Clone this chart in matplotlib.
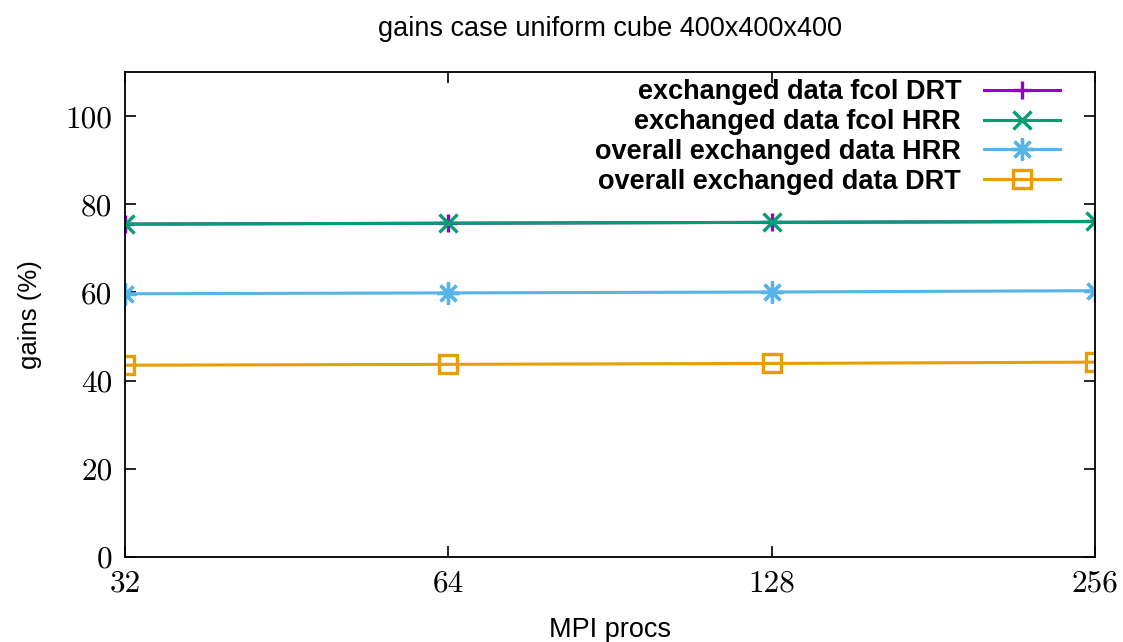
import matplotlib
matplotlib.use("Agg")
import matplotlib.pyplot as plt
from matplotlib.ticker import FixedLocator, NullLocator, FixedFormatter

procs = [32, 64, 128, 256]
fcol_drt = [75.5, 75.7, 75.9, 76.1]
fcol_hrr = [75.5, 75.7, 75.9, 76.1]
overall_hrr = [59.7, 59.9, 60.1, 60.4]
overall_drt = [43.5, 43.7, 43.9, 44.2]

series = [
    ("exchanged data fcol DRT", fcol_drt, "#9400d3", "+", 13),
    ("exchanged data fcol HRR", fcol_hrr, "#009e73", "x", 13),
    ("overall exchanged data HRR", overall_hrr, "#56b4e9", (8, 2, 0), 16),
    ("overall exchanged data DRT", overall_drt, "#e69f00", "s", 13),
]

fig = plt.figure(figsize=(11.23, 6.42), dpi=100)
ax = fig.add_axes([125 / 1123, 85 / 642, 970 / 1123, 485 / 642])

for label, vals, color, marker, ms in series:
    ax.plot(procs, vals, color=color, marker=marker, lw=2.2, ms=ms,
            mew=2.4, mfc="none", label=label)

ax.set_xscale("log", base=2)
ax.set_xlim(32, 256)
ax.set_ylim(0, 110)
ax.xaxis.set_major_locator(FixedLocator(procs))
ax.xaxis.set_major_formatter(FixedFormatter([str(p) for p in procs]))
ax.xaxis.set_minor_locator(NullLocator())
ax.set_yticks([0, 20, 40, 60, 80, 100])

ax.tick_params(direction="in", length=8, width=1.2, top=True, right=True,
               labelsize=22.5, pad=9)
for lbl in ax.get_xticklabels() + ax.get_yticklabels():
    lbl.set_fontfamily("cmr10")
for sp in ax.spines.values():
    sp.set_linewidth(1.3)

sans = "Liberation Sans"
ax.set_xlabel("MPI procs", fontsize=19.5, family=sans, labelpad=14)
ax.set_ylabel("gains (%)", fontsize=18.5, family=sans, labelpad=17)
# title centred over the plot area, gnuplot style
fig.text(610 / 1123, 0.975, "gains case uniform cube 400x400x400",
         fontsize=19.5, family=sans, ha="center", va="top")

ax.legend(loc="upper right", frameon=False, markerfirst=False,
          prop={"family": sans, "weight": "bold", "size": 19.5},
          handlelength=2.8, labelspacing=0.14, borderaxespad=0, borderpad=0,
          handletextpad=0.85, bbox_to_anchor=(0.964, 0.985))

fig.savefig("out.png", dpi=100)
